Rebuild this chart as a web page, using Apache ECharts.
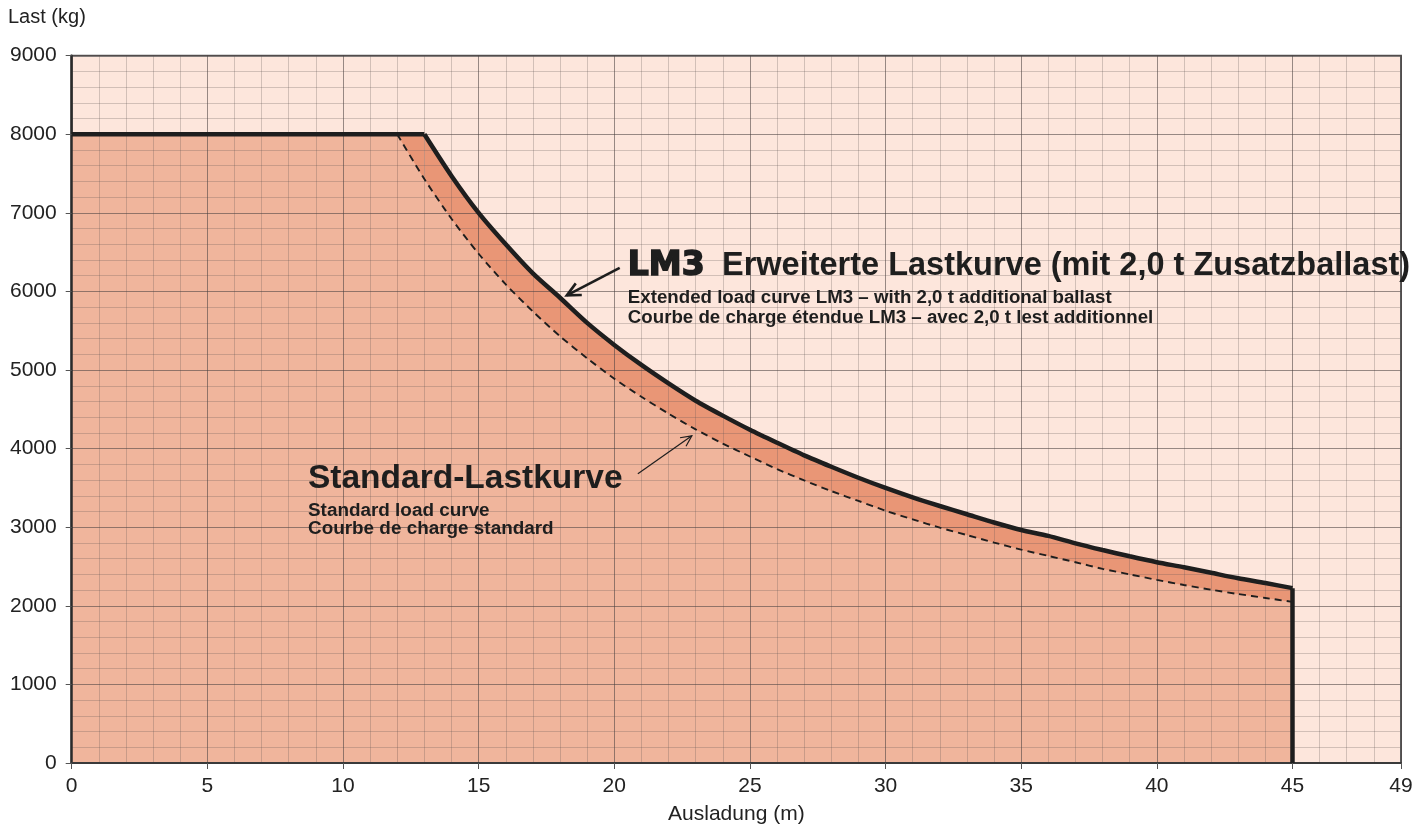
<!DOCTYPE html>
<html>
<head>
<meta charset="utf-8">
<script src="https://cdn.jsdelivr.net/npm/echarts@6/dist/echarts.min.js"></script>
<style>
html,body{margin:0;padding:0;background:#fff;}
#c{width:1425px;height:830px;}
</style>
</head>
<body>
<div id="c"></div>
<script>
// ---- data ----
// LM3 extended load curve (with 2,0 t additional ballast)
const radiusLM3 = [0, 13, 14, 15, 16, 17, 18, 19, 20, 21, 22, 23, 24, 25, 26, 27, 28, 29, 30, 31, 32, 33, 34, 35, 36, 37, 38, 39, 40, 41, 42, 43, 44, 45];
const loadLM3   = [8000, 8000, 7470, 7000, 6600, 6230, 5920, 5600, 5320, 5065, 4830, 4610, 4420, 4240, 4075, 3915, 3770, 3630, 3500, 3380, 3270, 3165, 3060, 2965, 2890, 2795, 2710, 2630, 2555, 2490, 2420, 2350, 2290, 2225];
// Standard load curve
const radiusStd = [0, 12, 13, 14, 15, 16, 17, 18, 19, 20, 21, 22, 23, 24, 25, 26, 27, 28, 29, 30, 31, 32, 33, 34, 35, 36, 37, 38, 39, 40, 41, 42, 43, 44, 45];
const loadStd   = [8000, 8000, 7430, 6925, 6480, 6090, 5745, 5430, 5150, 4890, 4660, 4445, 4245, 4065, 3900, 3740, 3595, 3460, 3335, 3210, 3100, 2995, 2900, 2805, 2715, 2635, 2555, 2470, 2400, 2330, 2265, 2205, 2150, 2100, 2050];
const xTicks = [0, 5, 10, 15, 20, 25, 30, 35, 40, 45, 49];
const yTicks = [0, 1000, 2000, 3000, 4000, 5000, 6000, 7000, 8000, 9000];

const lm3Pairs = radiusLM3.map((r, i) => [r, loadLM3[i]]);
const stdPairs = radiusStd.map((r, i) => [r, loadStd[i]]);
const lm3Flat = lm3Pairs.slice(0, 2), lm3Curve = lm3Pairs.slice(1);
const stdFlat = stdPairs.slice(0, 2), stdCurve = stdPairs.slice(1);
const lm3End = lm3Pairs[lm3Pairs.length - 1];
const lm3Drop = [lm3End, [lm3End[0], 0]];

const FONT = '"Liberation Sans", Arial, Helvetica, sans-serif';
const INK = '#1e1e1e';
const chart = echarts.init(document.getElementById('c'));

const minorLine = {show: true, lineStyle: {color: 'rgba(95,85,85,0.27)', width: 1}};
const majorLine = {show: true, lineStyle: {color: 'rgba(70,60,60,0.42)', width: 1}};
const SM = 0.25;

function fill(data, color, smooth) {
  return {type: 'line', data: data, symbol: 'none', z: 1, silent: true, smooth: smooth,
          lineStyle: {width: 0}, areaStyle: {color: color, opacity: 1}};
}
function stroke(data, style, smooth, z) {
  return {type: 'line', data: data, symbol: 'none', z: z, silent: true, smooth: smooth, lineStyle: style};
}

chart.setOption({
  animation: false,
  grid: {left: 71.7, right: 24, top: 55.7, bottom: 66.7, show: true,
         backgroundColor: '#FDE6DC', borderColor: '#5a5a5a', borderWidth: 2},
  xAxis: [
    {type: 'value', min: xTicks[0], max: xTicks[xTicks.length - 1], interval: 5, z: 3,
     axisLine: {show: true, onZero: false, lineStyle: {color: '#3a3a3a', width: 2}},
     axisTick: {show: true, length: 6, lineStyle: {color: '#555', width: 1}},
     axisLabel: {fontSize: 21, color: '#222', margin: 13, fontFamily: FONT, showMaxLabel: true,
                 formatter: v => String(v)},
     splitLine: majorLine,
     name: 'Ausladung (m)', nameLocation: 'middle', nameGap: 41,
     nameTextStyle: {fontSize: 21, color: '#222', fontFamily: FONT}},
    {type: 'value', min: 0, max: 49, interval: 1, z: 2, position: 'bottom',
     axisLine: {show: false}, axisTick: {show: false}, axisLabel: {show: false},
     splitLine: minorLine}
  ],
  yAxis: [
    {type: 'value', min: yTicks[0], max: yTicks[yTicks.length - 1], interval: 1000, z: 3,
     axisLine: {show: true, onZero: false, lineStyle: {color: '#2a2a2a', width: 2.5}},
     axisTick: {show: true, length: 6, lineStyle: {color: '#555', width: 1}},
     axisLabel: {fontSize: 21, color: '#222', margin: 15, fontFamily: FONT, formatter: v => String(v)},
     splitLine: majorLine},
    {type: 'value', min: 0, max: 9000, interval: 200, z: 2,
     axisLine: {show: false}, axisTick: {show: false}, axisLabel: {show: false},
     splitLine: minorLine}
  ],
  series: [
    fill(lm3Flat, '#E99676', false),
    fill(lm3Curve, '#E99676', SM),
    fill(stdFlat, '#F0B59C', false),
    fill(stdCurve, '#F0B59C', SM),
    stroke(stdCurve, {color: INK, width: 1.9, type: [7, 5]}, SM, 5),
    stroke(lm3Flat, {color: INK, width: 4.5}, false, 6),
    stroke(lm3Curve, {color: INK, width: 4.5}, SM, 6),
    stroke(lm3Drop, {color: INK, width: 4.5}, false, 6)
  ]
});

function px(x, y) { return chart.convertToPixel({xAxisIndex: 0, yAxisIndex: 0}, [x, y]); }

function arrow(tail, head, w, hl) {
  const t = px(tail[0], tail[1]), h = px(head[0], head[1]);
  const ang = Math.atan2(h[1] - t[1], h[0] - t[0]);
  const a1 = ang + Math.PI - 0.45, a2 = ang + Math.PI + 0.45;
  return [
    {type: 'line', shape: {x1: t[0], y1: t[1], x2: h[0], y2: h[1]}, style: {stroke: INK, lineWidth: w}, z: 10},
    {type: 'polyline', shape: {points: [[h[0] + hl * Math.cos(a1), h[1] + hl * Math.sin(a1)], h, [h[0] + hl * Math.cos(a2), h[1] + hl * Math.sin(a2)]]},
     style: {stroke: INK, lineWidth: w, fill: null, lineJoin: 'miter'}, z: 10}
  ];
}

function label(x, y, text, size, extra) {
  const p = px(x, y);
  return {type: 'text', x: p[0], y: p[1], z: 10,
          style: Object.assign({text: text, fontSize: size, fontWeight: 'bold', fontFamily: FONT,
                                fill: INK, verticalAlign: 'middle', align: 'left'}, extra || {})};
}

const graphics = [
  {type: 'text', left: 8, top: 7, style: {text: 'Last (kg)', fontSize: 20, fill: '#222', fontFamily: FONT}},
  label(20.5, 6325, 'LM3', 33, {fontWeight: 900, fontFamily: '"DejaVu Sans", sans-serif', stroke: INK, lineWidth: 1.6}),
  label(23.97, 6325, 'Erweiterte Lastkurve (mit 2,0 t Zusatzballast)', 32.5),
  label(20.5, 5919, 'Extended load curve LM3 – with 2,0 t additional ballast', 18.7),
  label(20.5, 5665, 'Courbe de charge étendue LM3 – avec 2,0 t lest additionnel', 18.7),
  label(8.71, 3616, 'Standard-Lastkurve', 33.5),
  label(8.71, 3209, 'Standard load curve', 18.9),
  label(8.71, 2975, 'Courbe de charge standard', 18.9)
].concat(arrow([20.2, 6300], [18.25, 5950], 2.6, 15))
 .concat(arrow([20.87, 3680], [22.86, 4163], 1.2, 12));

chart.setOption({graphic: graphics});
</script>
</body>
</html>
